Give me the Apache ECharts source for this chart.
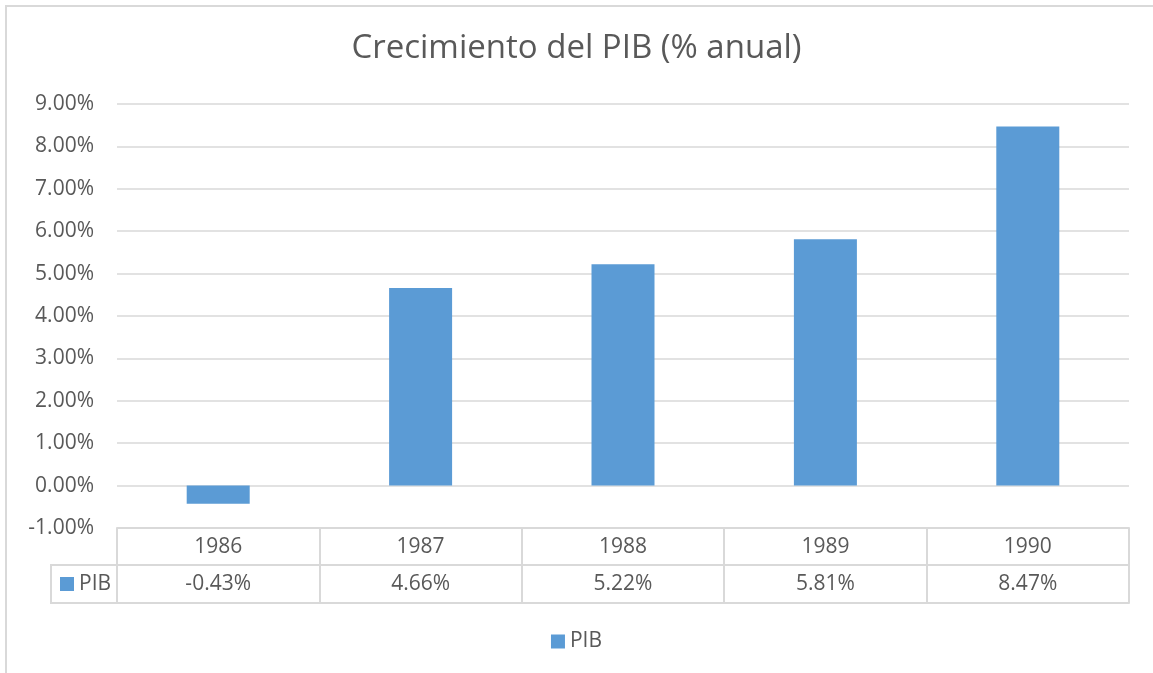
<!DOCTYPE html>
<html>
<head>
<meta charset="utf-8">
<script src="https://cdn.jsdelivr.net/npm/echarts@6/dist/echarts.min.js"></script>
<style>
  html, body { margin: 0; padding: 0; background: #fff; }
  #chart { width: 1153px; height: 673px; }
</style>
</head>
<body>
<div id="chart"></div>
<script>
// datos
const years = ['1986', '1987', '1988', '1989', '1990'];
const pib = [-0.43, 4.66, 5.22, 5.81, 8.47];
const seriesName = 'PIB';

const txt = '#595959';
const line = '#d9d9d9';
const blue = '#5b9bd5';
const font = 'Open Sans';

const pct = v => v.toFixed(2) + '%';

const chart = echarts.init(document.getElementById('chart'));

chart.setOption({
  animation: false,
  backgroundColor: '#fff',
  textStyle: { fontFamily: font },
  title: {
    text: 'Crecimiento del PIB (% anual)',
    left: 'center',
    top: 29,
    padding: 0,
    textStyle: { fontFamily: font, fontSize: 33, fontWeight: 'normal', color: txt, lineHeight: 40 }
  },
  legend: {
    data: [seriesName],
    top: 626,
    left: 'center',
    icon: 'rect',
    itemWidth: 14,
    itemHeight: 14,
    itemGap: 6,
    textStyle: { fontFamily: font, fontSize: 21, color: txt, lineHeight: 20 }
  },
  grid: { left: 117, right: 24, top: 104, bottom: 145 },
  yAxis: {
    type: 'value',
    min: -1,
    max: 9,
    interval: 1,
    axisLine: { show: false },
    axisTick: { show: false },
    axisLabel: { formatter: v => pct(v), fontSize: 21, color: txt, margin: 23 },
    splitLine: { lineStyle: { color: line, width: 1.5 } }
  },
  xAxis: [
    {
      type: 'category',
      data: years,
      position: 'bottom',
      axisLine: { onZero: false, lineStyle: { color: line, width: 2 } },
      axisTick: { show: true, interval: 0, length: 75, lineStyle: { color: line, width: 2 } },
      axisLabel: { fontSize: 21, color: txt, margin: 9, lineHeight: 20 }
    },
    {
      type: 'category',
      data: pib.map(pct),
      position: 'bottom',
      offset: 37,
      axisLine: { onZero: false, lineStyle: { color: line, width: 2 } },
      axisTick: { show: false },
      axisLabel: { fontSize: 21, color: txt, margin: 9, lineHeight: 20 }
    },
    {
      type: 'category',
      data: years,
      position: 'bottom',
      offset: 75,
      axisLine: { onZero: false, lineStyle: { color: line, width: 2 } },
      axisTick: { show: false },
      axisLabel: { show: false }
    }
  ],
  series: [{
    name: seriesName,
    type: 'bar',
    xAxisIndex: 0,
    data: pib,
    barWidth: 63,
    itemStyle: { color: blue }
  }],
  graphic: [
    // marco exterior
    { type: 'polyline', shape: { points: [[6, 673], [6, 6], [1153, 6]] }, style: { stroke: line, lineWidth: 2, fill: null }, silent: true },
    // celda de la leyenda en la tabla
    { type: 'polyline', shape: { points: [[117, 565], [51, 565], [51, 603], [117, 603]] }, style: { stroke: line, lineWidth: 2, fill: null }, silent: true },
    { type: 'rect', shape: { x: 60, y: 577, width: 14, height: 14 }, style: { fill: blue }, silent: true },
    { type: 'text', x: 79, y: 584, style: { text: seriesName, font: '21px "Open Sans"', fill: txt, verticalAlign: 'middle' }, silent: true }
  ]
});
</script>
</body>
</html>
